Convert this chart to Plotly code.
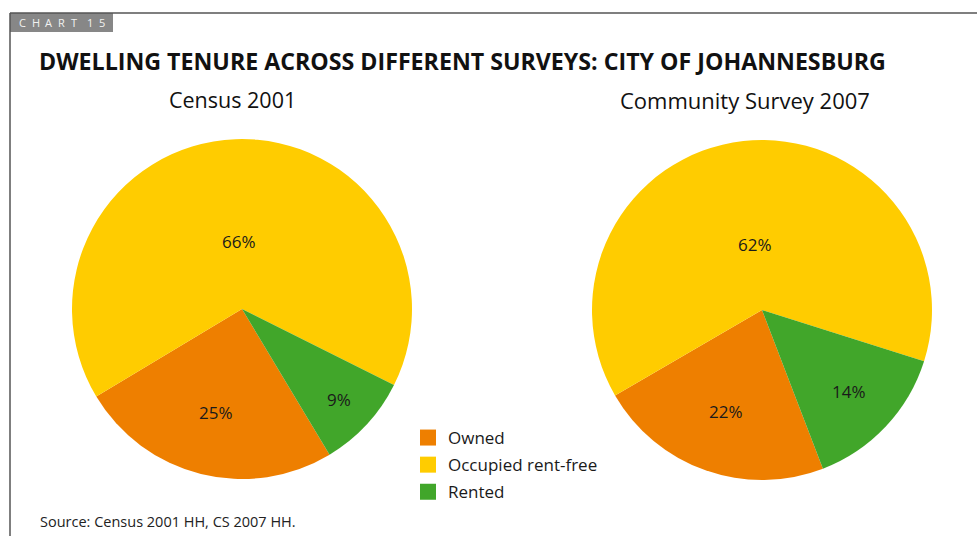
import math
import plotly.graph_objects as go

# Tenure categories and shares (%) for each survey
categories = ["Owned", "Occupied rent-free", "Rented"]
census_2001 = [25, 66, 9]
community_survey_2007 = [22, 62, 14]
colors = ["#EE7F00", "#FFCC00", "#41A62A"]
survey_titles = ["Census 2001", "Community Survey 2007"]

W, H = 977, 536
FONT = "Open Sans, Noto Sans, sans-serif"


def px_x(v):
    return v / W


def px_y(v):
    return 1 - v / H


# pie placement: centre (px), radius (px), start angle clockwise from 12 o'clock
pie_layout = [
    dict(cx=242, cy=309, r=170, rotation=149, label_r=[0.63, 0.40, 0.78]),
    dict(cx=762, cy=310, r=170, rotation=159, label_r=[0.63, 0.39, 0.70]),
]

fig = go.Figure()
annotations = []

for vals, pl in zip([census_2001, community_survey_2007], pie_layout):
    cx, cy, r = pl["cx"], pl["cy"], pl["r"]
    fig.add_trace(
        go.Pie(
            labels=categories,
            values=vals,
            sort=False,
            direction="clockwise",
            rotation=pl["rotation"],
            marker=dict(colors=colors, line=dict(width=0)),
            textinfo="none",
            hoverinfo="label+value",
            showlegend=False,
            domain=dict(x=[px_x(cx - r), px_x(cx + r)], y=[px_y(cy + r), px_y(cy - r)]),
        )
    )
    # value labels placed on each slice's bisector
    total = sum(vals)
    start = pl["rotation"]
    for v, fr in zip(vals, pl["label_r"]):
        span = v / total * 360
        mid = math.radians(start + span / 2)
        start += span
        lx = cx + fr * r * math.sin(mid)
        ly = cy - fr * r * math.cos(mid)
        annotations.append(dict(
            text=f"{v}%", x=px_x(lx), y=px_y(ly), xanchor="center", yanchor="middle",
            font=dict(family=FONT, size=17, color="#1a1a1a"),
        ))

# legend entries with larger square swatches
for name, col in zip(categories, colors):
    fig.add_trace(go.Scatter(
        x=[None], y=[None], mode="markers", name=name, legendgroup=name,
        marker=dict(symbol="square", size=18, color=col),
        hoverinfo="skip",
    ))

# letter-spaced header tag, one glyph per annotation
tag_letters = ["C", "H", "A", "R", "T", "1", "5"]
tag_x = [17, 29.5, 42.5, 56, 68.5, 85, 97]
for ch, x in zip(tag_letters, tag_x):
    annotations.append(dict(
        text=ch, x=px_x(x), y=px_y(23), xanchor="left", yanchor="middle",
        font=dict(family=FONT, size=11, color="#f2f2f2"),
    ))

annotations += [
    dict(
        text="<b>DWELLING TENURE ACROSS DIFFERENT SURVEYS: CITY OF JOHANNESBURG</b>",
        x=px_x(37), y=px_y(61), xanchor="left", yanchor="middle",
        font=dict(family=FONT, size=23.2, color="#111111"),
    ),
    dict(
        text=survey_titles[0], x=px_x(232), y=px_y(100), xanchor="center", yanchor="middle",
        font=dict(family=FONT, size=21.5, color="#111111"),
    ),
    dict(
        text=survey_titles[1], x=px_x(745), y=px_y(100), xanchor="center", yanchor="middle",
        font=dict(family=FONT, size=22, color="#111111"),
    ),
    dict(
        text="Source: Census 2001 HH, CS 2007 HH.", x=px_x(38), y=px_y(521),
        xanchor="left", yanchor="middle",
        font=dict(family=FONT, size=14.5, color="#222222"),
    ),
]
for a in annotations:
    a.update(xref="paper", yref="paper", showarrow=False)

shapes = [
    dict(type="rect", x0=px_x(10), x1=px_x(113), y0=px_y(32), y1=px_y(13),
         fillcolor="#878787", line=dict(width=0)),
    dict(type="line", x0=px_x(10), x1=1, y0=px_y(13), y1=px_y(13),
         line=dict(color="#555555", width=1.5)),
    dict(type="line", x0=px_x(10), x1=px_x(10), y0=px_y(13), y1=0,
         line=dict(color="#555555", width=1.5)),
]
for s in shapes:
    s.update(xref="paper", yref="paper")

fig.update_layout(
    width=W, height=H,
    margin=dict(l=0, r=0, t=0, b=0),
    paper_bgcolor="white", plot_bgcolor="white",
    font=dict(family=FONT, color="#1a1a1a"),
    xaxis=dict(visible=False),
    yaxis=dict(visible=False),
    annotations=annotations,
    shapes=shapes,
    legend=dict(
        x=px_x(408), y=px_y(420), xanchor="left", yanchor="top",
        font=dict(family=FONT, size=17, color="#1a1a1a"),
        bgcolor="rgba(0,0,0,0)", tracegroupgap=2, itemwidth=30,
        itemsizing="trace",
    ),
)

fig.write_html("out.html")
